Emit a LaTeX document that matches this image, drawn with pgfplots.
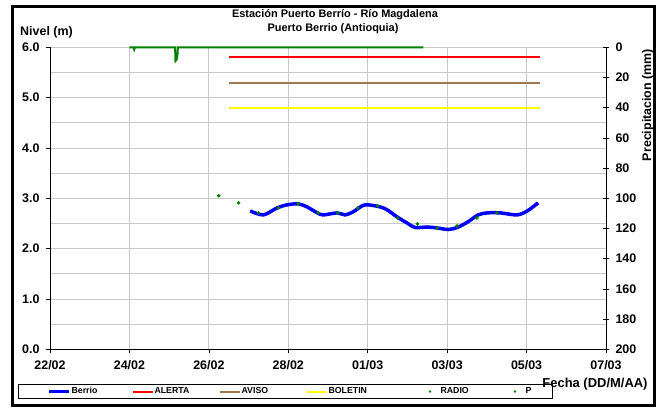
\documentclass[border=0pt]{standalone}
\usepackage{fontspec}
\setmainfont{Liberation Sans}
\usepackage{pgfplots}
\pgfplotsset{compat=1.18}
\definecolor{pgreen}{RGB}{0,128,0}
\definecolor{aviso}{RGB}{160,120,80}
\definecolor{alerta}{RGB}{255,0,0}
\definecolor{boletin}{RGB}{255,255,0}
\definecolor{gridc}{RGB}{200,200,200}
\pgfplotsset{
  mylinelegend/.style={legend image code/.code={\path[draw=none,fill=none] (-11bp,0bp) -- (20bp,0bp); \draw[##1] (0bp,0bp) -- (20bp,0bp);}},
  mydotlegend/.style={legend image code/.code={\path[draw=none,fill=none] (-11bp,0bp) -- (20bp,0bp); \fill[pgreen,draw=none] (10bp,0bp) circle (1.4bp);}},
}
\begin{document}
\begin{tikzpicture}[x=1bp,y=1bp]
\useasboundingbox (0,0) rectangle (661,407);
\draw[line width=3bp] (12.5,1.2) rectangle (654.5,400.5);
\begin{axis}[
  at={(50bp,57.7bp)}, anchor=south west,
  scale only axis, width=556bp, height=302bp,
  xmin=0, xmax=14, ymin=0, ymax=6,
  axis x line*=bottom, axis y line*=left,
  axis line style={black, line width=0.8bp, -},
  xtick={0,2,...,14},
  xticklabels={22/02,24/02,26/02,28/02,01/03,03/03,05/03,07/03},
  ytick={0,1,...,6}, minor ytick={0.5,1.5,...,5.5},
  grid=both,
  major grid style={gridc, line width=0.9bp},
  minor grid style={gridc, line width=0.9bp},
  minor tick length=0pt, major tick length=4bp, tick align=outside,
  tick style={black, line width=0.7bp},
  /pgf/number format/assume math mode=true,
  y tick label style={/pgf/number format/fixed, /pgf/number format/fixed zerofill, /pgf/number format/precision=1, xshift=-3bp},
  x tick label style={yshift=-4bp},
  tick label style={font=\fontsize{12.5}{14}\selectfont\bfseries},
  legend columns=6,
  legend style={at={(-0.05755,-0.1149)}, anchor=north west, draw=black, line width=0.6bp,
    inner xsep=20bp, inner ysep=1.5bp, column sep=0pt,
    font=\fontsize{8.8}{10}\selectfont\bfseries,
    nodes={inner xsep=0.5bp, inner ysep=1.8bp}},
]
\addplot[blue, line width=3.5bp, smooth, tension=0.5, mylinelegend] coordinates {
(5.04,2.75) (5.37,2.67) (5.72,2.81) (5.97,2.87) (6.25,2.89) (6.47,2.83)
(6.73,2.71) (6.88,2.67) (7.23,2.71) (7.43,2.67) (7.63,2.73) (7.86,2.85)
(8.01,2.87) (8.31,2.83) (8.49,2.77) (8.74,2.63) (8.99,2.51) (9.19,2.42)
(9.50,2.43) (9.75,2.41) (10.03,2.38) (10.25,2.42) (10.50,2.52) (10.78,2.67)
(11.01,2.71) (11.34,2.71) (11.76,2.67) (12.02,2.75) (12.29,2.91)
};
\addlegendentry{\makebox[50bp][l]{Berrio}}
\addplot[color=alerta, line width=2bp, mylinelegend] coordinates {(4.5,5.8) (12.35,5.8)};
\addlegendentry{\makebox[54bp][l]{ALERTA}}
\addplot[color=aviso, line width=2bp, mylinelegend] coordinates {(4.5,5.3) (12.35,5.3)};
\addlegendentry{\makebox[54bp][l]{AVISO}}
\addplot[color=boletin, line width=2bp, mylinelegend] coordinates {(4.5,4.8) (12.35,4.8)};
\addlegendentry{\makebox[80bp][l]{BOLETIN}}
\addplot[only marks, mark=*, mark size=1.6bp, pgreen, mydotlegend] coordinates {
(4.25,3.05) (4.75,2.91) (5.25,2.71) (5.75,2.81) (6.25,2.89) (6.75,2.71)
(7.25,2.71) (7.75,2.81) (8.25,2.85) (8.75,2.61) (9.25,2.49) (9.75,2.41)
(10.25,2.45) (10.75,2.61) (11.25,2.71)
};
\addlegendentry{\makebox[53bp][l]{RADIO}}
\addlegendimage{mydotlegend}
\addlegendentry{P}
\end{axis}
\begin{axis}[
  at={(50bp,57.7bp)}, anchor=south west,
  scale only axis, width=556bp, height=302bp,
  xmin=0, xmax=14, ymin=0, ymax=200, y dir=reverse,
  axis y line*=right, hide x axis,
  axis line style={black, line width=0.8bp, -},
  ytick={0,20,...,200},
  tick align=center, major tick length=6bp,
  tick style={black, line width=0.7bp},
  /pgf/number format/assume math mode=true,
  y tick label style={xshift=3bp},
  tick label style={font=\fontsize{12.5}{14}\selectfont\bfseries},
  clip=false,
]
\addplot[pgreen, line width=2bp] coordinates {
(2.0,0) (2.1,0) (2.12,1.5) (2.14,0) (3.15,0) (3.16,9) (3.19,8) (3.21,5) (3.22,0) (9.4,0)
};
\end{axis}
\node[font=\fontsize{11}{13}\selectfont\bfseries] at (335,392) {Estación Puerto Berrío - Río Magdalena};
\node[font=\fontsize{11}{13}\selectfont\bfseries] at (333,378.5) {Puerto Berrio (Antioquia)};
\node[font=\fontsize{12.5}{14}\selectfont\bfseries, anchor=west, inner sep=0] at (20,375) {Nivel (m)};
\node[font=\fontsize{12.5}{14}\selectfont\bfseries, rotate=90] at (648,302) {Precipitacion (mm)};
\node[font=\fontsize{13}{15}\selectfont\bfseries] at (595,23) {Fecha (DD/M/AA)};
\end{tikzpicture}
\end{document}
